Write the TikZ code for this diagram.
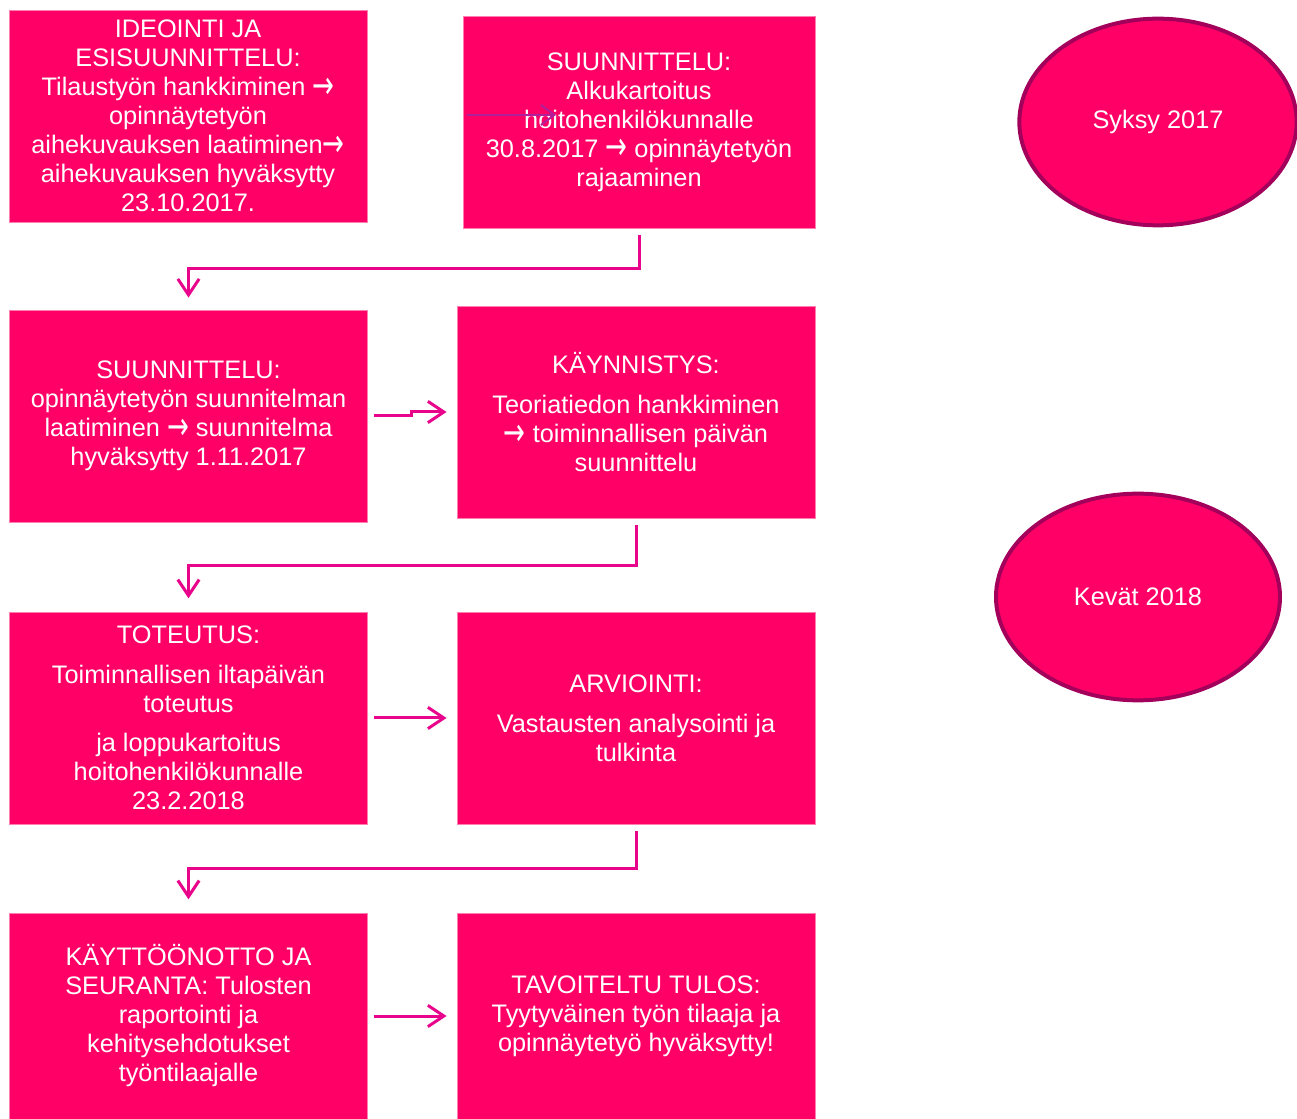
\documentclass[tikz,border=0pt]{standalone}
\usepackage{fontspec}
\setmainfont{Liberation Sans}
\newfontfamily\arrowfont{DejaVu Sans}
\usetikzlibrary{arrows.meta,shapes.geometric}

\definecolor{boxpink}{HTML}{FF0066}
\definecolor{boxedge}{HTML}{FF7FB0}
\definecolor{flowpink}{HTML}{E8058C}
\definecolor{ovaledge}{HTML}{A3005C}
\definecolor{straypurple}{HTML}{B0209A}

\newcommand{\thento}{{\arrowfont\fontsize{17pt}{21.75pt}\selectfont\raisebox{-0.12em}{\scalebox{1.15}[1.7]{→}}}}

\tikzset{
  phase/.style={rectangle, fill=boxpink, draw=boxedge, line width=0.6pt,
    minimum width=268.5pt, minimum height=159pt, inner sep=2pt,
    align=center, text=white, font=\fontsize{19pt}{21.75pt}\selectfont},
  season/.style={ellipse, fill=boxpink, draw=ovaledge, line width=3pt,
    inner sep=0pt, text=white, font=\fontsize{19pt}{21.75pt}\selectfont},
  flow/.style={draw=flowpink, line width=2.25pt,
    -{Straight Barb[length=12pt,width=16pt,line width=2.25pt]}},
}

\begin{document}
\begin{tikzpicture}[x=0.75pt, y=-0.75pt]
    \useasboundingbox (0,0) rectangle (1297,1119);

    % Phase boxes, first column
    \node[phase] (ideointi) at (188,116) {IDEOINTI JA\\ESISUUNNITTELU:\\Tilaustyön hankkiminen \thento\\opinnäytetyön\\aihekuvauksen laatiminen\thento\\aihekuvauksen hyväksytty\\23.10.2017.};
    \node[phase] (suunnitelma) at (188.5,416) {SUUNNITTELU:\\opinnäytetyön suunnitelman\\laatiminen \thento{} suunnitelma\\hyväksytty 1.11.2017};
    \node[phase] (toteutus) at (188.5,718) {TOTEUTUS:\\[8pt]Toiminnallisen iltapäivän\\toteutus\\[8pt]ja loppukartoitus\\hoitohenkilökunnalle\\23.2.2018};
    \node[phase, minimum height=154.5pt] (kayttoonotto) at (188.5,1016) {KÄYTTÖÖNOTTO JA\\SEURANTA: Tulosten\\raportointi ja\\kehitysehdotukset\\työntilaajalle};

    % Phase boxes, second column
    \node[phase, minimum width=264pt] (suunnittelu) at (639,122) {SUUNNITTELU:\\Alkukartoitus\\hoitohenkilökunnalle\\30.8.2017 \thento{} opinnäytetyön\\rajaaminen};
    \node[phase] (kaynnistys) at (636,412) {KÄYNNISTYS:\\[8pt]Teoriatiedon hankkiminen\\\thento{} toiminnallisen päivän\\suunnittelu};
    \node[phase] (arviointi) at (636,718) {ARVIOINTI:\\[8pt]Vastausten analysointi ja\\tulkinta};
    \node[phase, minimum height=154.5pt] (tulos) at (636,1016) {TAVOITELTU TULOS:\\Tyytyväinen työn tilaaja ja\\opinnäytetyö hyväksytty!};

    % Seasons
    \node[season, minimum width=208pt, minimum height=155pt] (syksy) at (1158,122) {Syksy 2017};
    \node[season, minimum width=213pt, minimum height=155pt] (kevat) at (1138,597) {Kevät 2018};

    % Turning arrows between the rows
    \draw[flow, shorten <=5pt, shorten >=9pt] (suunnittelu.south) -- ++(0,40) -| (suunnitelma.north);
    \draw[flow, shorten <=5pt, shorten >=10pt] (kaynnistys.south) -- ++(0,47) -| (toteutus.north);
    \draw[flow, shorten <=5pt, shorten >=10pt] (arviointi.south) -- ++(0,44) -| (kayttoonotto.north);

    % Arrows inside the rows
    \draw[flow, shorten <=4.5pt, shorten >=7.5pt] (suunnitelma.east) -- ++(44,0) |- (kaynnistys.west);
    \draw[flow, shorten <=4.5pt, shorten >=7.5pt] (toteutus.east) -- (arviointi.west);
    \draw[flow, shorten <=4.5pt, shorten >=7.5pt] (kayttoonotto.east) -- (tulos.west);

    % Stray arrow over the second box
    \coordinate (straystart) at (467,115);
    \coordinate (strayend) at (556,115);
    \draw[straypurple, line width=1.5pt, -{Straight Barb[length=10pt,width=15pt,line width=1.5pt]}] (straystart) -- (strayend);
\end{tikzpicture}
\end{document}
